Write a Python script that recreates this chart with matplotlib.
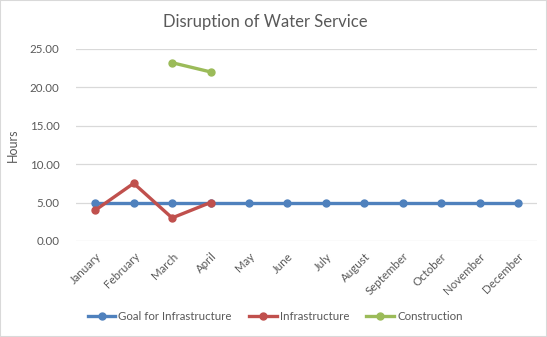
import matplotlib
matplotlib.use("Agg")
import matplotlib.pyplot as plt
import numpy as np

months = ["January", "February", "March", "April", "May", "June", "July",
          "August", "September", "October", "November", "December"]
goal = [5, 5, 5, 5, 5, 5, 5, 5, 5, 5, 5, 5]
infrastructure = [4.0, 7.5, 3.0, 5.0]
construction = [None, None, 23.2, 22.0]
yticks = [0, 5, 10, 15, 20, 25]

plt.rcParams['font.family'] = ['Lato', 'DejaVu Sans']
txt = '#595959'

fig = plt.figure(figsize=(5.47, 3.37), dpi=100)
ax = fig.add_axes([0.139, 0.285, 0.843, 0.570])

x = np.arange(len(months))
l1, = ax.plot(x, goal, color='#4F81BD', lw=2.4, marker='o', ms=5, label='Goal for Infrastructure', zorder=3)
l2, = ax.plot(x[:len(infrastructure)], infrastructure, color='#C0504D', lw=2.4, marker='o', ms=5, label='Infrastructure', zorder=4)
cx = [i for i, v in enumerate(construction) if v is not None]
cy = [v for v in construction if v is not None]
l3, = ax.plot(cx, cy, color='#9BBB59', lw=2.4, marker='o', ms=5, label='Construction', zorder=4)

ax.set_xlim(-0.5, len(months) - 0.5)
ax.set_ylim(0, 25)
ax.set_yticks(yticks)
ax.set_yticklabels([f"{v:.2f}" for v in yticks], color=txt, fontsize=8.3)
ax.set_xticks(x)
ax.set_xticklabels(months, rotation=45, ha='right', rotation_mode='anchor', color=txt, fontsize=8.3)
ax.tick_params(axis='y', length=0, pad=12)
ax.tick_params(axis='x', length=0, pad=7)
ax.grid(axis='y', color='#D9D9D9', lw=0.9)
ax.set_axisbelow(True)
for s in ax.spines.values():
    s.set_visible(False)
ax.set_ylabel('Hours', color=txt, fontsize=9, labelpad=8)

fig.text(0.485, 0.935, 'Disruption of Water Service', ha='center', va='center', fontsize=12, color=txt)
fig.legend(handles=[l1, l2, l3], loc='center', bbox_to_anchor=(0.503, 0.062), ncol=3, frameon=False,
           fontsize=8.3, labelcolor=txt, handlelength=2.4, columnspacing=1.5, handletextpad=0.25)

fig.patches.append(plt.Rectangle((0, 0), 1, 1, transform=fig.transFigure, fill=False, edgecolor='#D9D9D9', lw=1.5))
fig.savefig('out.png', dpi=100)
